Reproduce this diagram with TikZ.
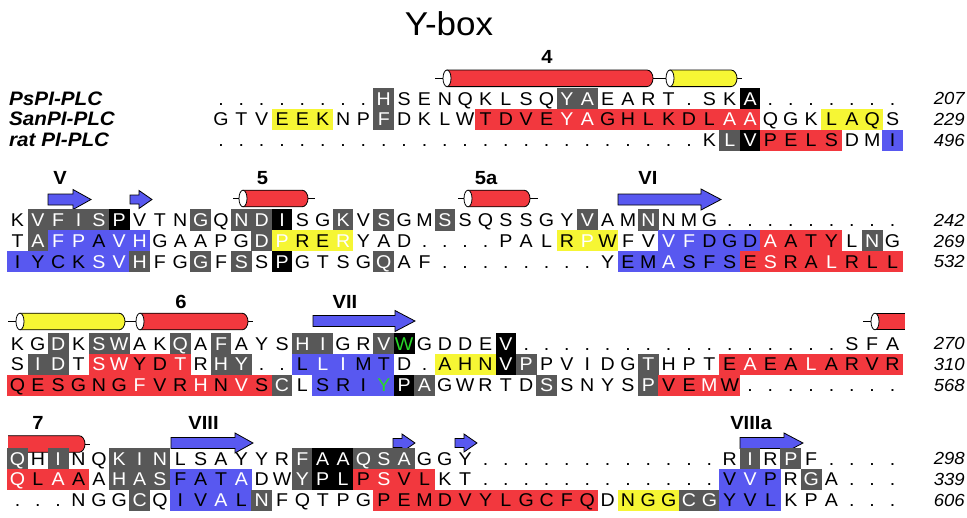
\documentclass[tikz,border=0pt]{standalone}
\usepackage{fontspec}
\setmainfont{Liberation Sans}[FakeStretch=1.06]
\definecolor{hlred}{RGB}{242,56,62}
\definecolor{hlblue}{RGB}{88,88,240}
\definecolor{hlyellow}{RGB}{246,246,52}
\definecolor{hlgray}{RGB}{88,88,88}
\definecolor{hlgreen}{RGB}{40,215,40}
\newcommand{\resfont}{\fontsize{18.5}{20}\selectfont}
\tikzset{
  res/.style={inner sep=0pt, minimum width=20.7pt, minimum height=21.2pt,
    text height=13.2pt, text depth=0pt, font=\resfont, anchor=center},
  cell n/.style={text=black},
  cell g/.style={fill=hlgray, text=white},
  cell k/.style={fill=black, text=white},
  cell r/.style={fill=hlred, text=black},
  cell R/.style={fill=hlred, text=white},
  cell b/.style={fill=hlblue, text=black},
  cell B/.style={fill=hlblue, text=white},
  cell y/.style={fill=hlyellow, text=black},
  cell Y/.style={fill=hlyellow, text=white},
  cell w/.style={fill=black, text=hlgreen},
  cell v/.style={fill=hlblue, text=hlgreen},
  seqname/.style={inner sep=0pt, anchor=west, text height=13.2pt, text depth=0pt,
    font=\fontsize{19.5}{21}\selectfont\bfseries\itshape},
  seqnum/.style={inner sep=0pt, anchor=east, text height=12.6pt, text depth=0pt,
    font=\fontsize{17.5}{20}\selectfont\itshape},
  sslabel/.style={inner sep=0pt, text height=13.2pt, text depth=0pt,
    font=\fontsize{19}{21}\selectfont\bfseries},
  sseline/.style={draw=black, line width=0.8pt},
  ssbody/.style={draw=black, line width=0.8pt},
  strandbox/.style={draw=black, line width=0.8pt, fill=hlblue, line join=miter},
}
% one aligned row of residues: name prefix, row centre, first column, residue/style list
\newcommand{\resrow}[4]{%
  \foreach \c/\s [count=\i from #3] in {#4} {
    \node[res, cell \s] (#1-\i) at ({17.5+\i*20.35}, #2) {\c};
  }%
}
% helix cylinder: colour, centre y, left face x, right end x
\newcommand{\hlx}[4]{%
  \path[ssbody, fill=#1] (#3,#2-8.3) -- (#4-6,#2-8.3)
    arc[start angle=-90, end angle=90, x radius=6, y radius=8.3] -- (#3,#2+8.3) -- cycle;
  \draw[ssbody, fill=white] (#3,#2) ellipse[x radius=4, y radius=8.3];
}
% beta strand arrow: centre y, tail x, tip x, head length, body half height, head half height
\newcommand{\strandarrow}[6]{%
  \path[strandbox] (#2,#1-#5) -- (#3-#4,#1-#5) -- (#3-#4,#1-#6) -- (#3,#1)
    -- (#3-#4,#1+#6) -- (#3-#4,#1+#5) -- (#2,#1+#5) -- cycle;
}
\begin{document}
\begin{tikzpicture}[x=1pt, y=-1pt]
\useasboundingbox (0,0) rectangle (967,517);

\node[inner sep=0pt, anchor=base, font=\fontsize{33}{36}\selectfont] (title) at (449,35) {Y-box};

% ---------------- block 1 ----------------
\draw[sseline] (435,78.3) -- (742,78.3);
\hlx{hlred}{78.3}{447}{653}
\hlx{hlyellow}{78.3}{670}{737}
\node[sslabel] (h4) at (547,57) {4};

\node[seqname] (n1) at (9,98.5) {PsPI-PLC};
\node[seqname] (n2) at (9,119.3) {SanPI-PLC};
\node[seqname] (n3) at (9,140.1) {rat PI-PLC};

\resrow{a1}{98.5}{10}{./n,./n,./n,./n,./n,./n,./n,./n,H/g,S/n,E/n,N/n,Q/n,K/n,L/n,S/n,Q/n,Y/g,A/g,E/n,A/n,R/n,T/n,./n,S/n,K/n,A/k,./n,./n,./n,./n,./n,./n,./n}
\resrow{a2}{119.3}{10}{G/n,T/n,V/n,E/y,E/y,K/y,N/n,P/n,F/g,D/n,K/n,L/n,W/n,T/r,D/r,V/r,E/r,Y/R,A/R,G/r,H/r,L/r,K/r,D/r,L/r,A/R,A/R,Q/n,G/n,K/n,L/y,A/y,Q/y,S/n}
\resrow{a3}{140.1}{10}{./n,./n,./n,./n,./n,./n,./n,./n,./n,./n,./n,./n,./n,./n,./n,./n,./n,./n,./n,./n,./n,./n,./n,./n,K/n,L/g,V/k,P/r,E/r,L/r,S/r,D/n,M/n,I/b}
\node[seqnum] (p1) at (965,98.5) {207};
\node[seqnum] (p2) at (965,119.3) {229};
\node[seqnum] (p3) at (965,140.1) {496};

% ---------------- block 2 ----------------
\strandarrow{199.5}{48}{91}{18}{5.5}{10}
\strandarrow{199.5}{130}{152}{13}{4.5}{9}
\strandarrow{199.5}{618}{721}{20}{5.5}{10.5}
\draw[sseline] (233,198.5) -- (315,198.5);
\hlx{hlred}{198.5}{243}{308}
\draw[sseline] (458,198.5) -- (538,198.5);
\hlx{hlred}{198.5}{468}{530}
\node[sslabel] (sV) at (60,178) {V};
\node[sslabel] (h5) at (262.5,178) {5};
\node[sslabel] (h5a) at (486,178) {5a};
\node[sslabel] (sVI) at (648,178) {VI};

\resrow{b1}{220}{0}{K/n,V/g,F/g,I/g,S/g,P/k,V/n,T/n,N/n,G/g,Q/n,N/g,D/g,I/k,S/n,G/n,K/g,V/n,S/g,G/n,M/n,S/g,S/n,Q/n,S/n,S/n,G/n,Y/n,V/g,A/n,M/n,N/g,N/n,M/n,G/n,./n,./n,./n,./n,./n,./n,./n,./n,./n}
\resrow{b2}{240.8}{0}{T/n,A/g,F/B,P/B,A/b,V/B,H/B,G/n,A/n,A/n,P/n,G/n,D/g,P/Y,R/y,E/y,R/Y,Y/n,A/n,D/n,./n,./n,./n,./n,P/n,A/n,L/n,R/y,P/Y,W/y,F/n,V/n,V/B,F/B,D/b,G/b,D/b,A/R,A/r,T/r,Y/r,L/n,N/g,G/n}
\resrow{b3}{261.6}{0}{I/b,Y/b,C/b,K/b,S/B,V/B,H/g,F/n,G/n,G/g,F/n,S/g,S/n,P/k,G/n,T/n,S/n,G/n,Q/g,A/n,F/n,./n,./n,./n,./n,./n,./n,./n,./n,Y/n,E/b,M/b,A/B,S/b,F/b,S/b,E/r,S/R,R/r,A/r,L/R,R/r,L/r,L/r}
\node[seqnum] (q1) at (965,220) {242};
\node[seqnum] (q2) at (965,240.8) {269};
\node[seqnum] (q3) at (965,261.6) {532};

% ---------------- block 3 ----------------
\draw[sseline] (8,321.5) -- (253,321.5);
\hlx{hlyellow}{321.5}{20}{125}
\hlx{hlred}{321.5}{140}{248}
\strandarrow{321}{313}{415}{20}{5.5}{10.5}
\draw[sseline] (863,321.5) -- (875,321.5);
\fill[hlred] (875,313.2) rectangle (905,329.8);
\draw[ssbody] (905,313.2) -- (875,313.2) (875,329.8) -- (905,329.8);
\draw[ssbody, fill=white] (875,321.5) ellipse[x radius=4, y radius=8.3];
\node[sslabel] (h6) at (181,302) {6};
\node[sslabel] (sVII) at (345,302) {VII};

\resrow{c1}{343.5}{0}{K/n,G/n,D/g,K/n,S/g,W/g,A/n,K/n,Q/g,A/n,F/g,A/n,Y/n,S/n,H/g,I/g,G/n,R/n,V/g,W/w,G/n,D/n,D/n,E/n,V/k,./n,./n,./n,./n,./n,./n,./n,./n,./n,./n,./n,./n,./n,./n,./n,./n,S/n,F/n,A/n}
\resrow{c2}{364.3}{0}{S/n,I/g,D/g,T/n,S/R,W/R,Y/r,D/r,T/R,R/n,H/g,Y/g,./n,./n,L/b,L/B,I/B,M/b,T/b,D/n,./n,A/y,H/y,N/y,V/k,P/g,P/n,V/n,I/n,D/n,G/n,T/g,H/n,P/n,T/n,E/r,A/R,E/r,A/r,L/R,A/r,R/r,V/r,R/r}
\resrow{c3}{385.1}{0}{Q/r,E/r,S/r,G/r,N/r,G/r,F/R,V/r,R/r,H/R,N/r,V/R,S/r,C/g,L/n,S/b,R/b,I/b,Y/v,P/k,A/g,G/n,W/n,R/n,T/n,D/n,S/g,S/n,N/n,Y/n,S/n,P/g,V/r,E/r,M/R,W/r,./n,./n,./n,./n,./n,./n,./n,./n}
\node[seqnum] (s1) at (965,343.5) {270};
\node[seqnum] (s2) at (965,364.3) {310};
\node[seqnum] (s3) at (965,385.1) {568};

% ---------------- block 4 ----------------
\draw[sseline] (79,444) -- (90,444);
\path[ssbody, fill=hlred, draw=none] (8,435.7) -- (79,435.7)
  arc[start angle=-90, end angle=90, x radius=6, y radius=8.3] -- (8,452.3) -- cycle;
\draw[ssbody] (8,435.7) -- (79,435.7)
  arc[start angle=-90, end angle=90, x radius=6, y radius=8.3] -- (8,452.3);
\strandarrow{443}{171}{253}{18}{5.5}{10}
\strandarrow{443}{393}{415}{13}{4.5}{9}
\strandarrow{443}{455}{477}{13}{4.5}{9}
\strandarrow{443}{740}{803}{19}{5.5}{10}
\node[sslabel] (h7) at (38,423) {7};
\node[sslabel] (sVIII) at (203.5,423) {VIII};
\node[sslabel] (sVIIIa) at (751,423) {VIIIa};

\resrow{d1}{458.5}{0}{Q/g,H/n,I/g,N/n,Q/n,K/g,I/g,N/g,L/n,S/n,A/n,Y/n,Y/n,R/n,F/g,A/k,A/k,Q/g,S/g,A/g,G/n,G/n,Y/n,./n,./n,./n,./n,./n,./n,./n,./n,./n,./n,./n,./n,R/n,I/g,R/n,P/g,F/n,./n,./n,./n,./n}
\resrow{d2}{479.3}{0}{Q/R,L/r,A/R,A/r,A/n,H/g,A/g,S/g,F/b,A/b,T/b,A/B,D/n,W/n,Y/g,P/k,L/k,P/r,S/R,V/r,L/r,K/n,T/n,./n,./n,./n,./n,./n,./n,./n,./n,./n,./n,./n,./n,V/b,V/B,P/b,R/n,G/g,A/n,./n,./n,./n}
\resrow{d3}{500.1}{0}{./n,./n,./n,N/n,G/n,G/n,C/g,Q/n,I/b,V/b,A/B,L/b,N/g,F/n,Q/n,T/n,P/n,G/n,P/r,E/r,M/r,D/r,V/r,Y/r,L/r,G/r,C/r,F/r,Q/r,D/n,N/y,G/y,G/y,C/g,G/g,Y/b,V/b,L/b,K/n,P/n,A/n,./n,./n,./n}
\node[seqnum] (t1) at (965,458.5) {298};
\node[seqnum] (t2) at (965,479.3) {339};
\node[seqnum] (t3) at (965,500.1) {606};
\end{tikzpicture}
\end{document}
